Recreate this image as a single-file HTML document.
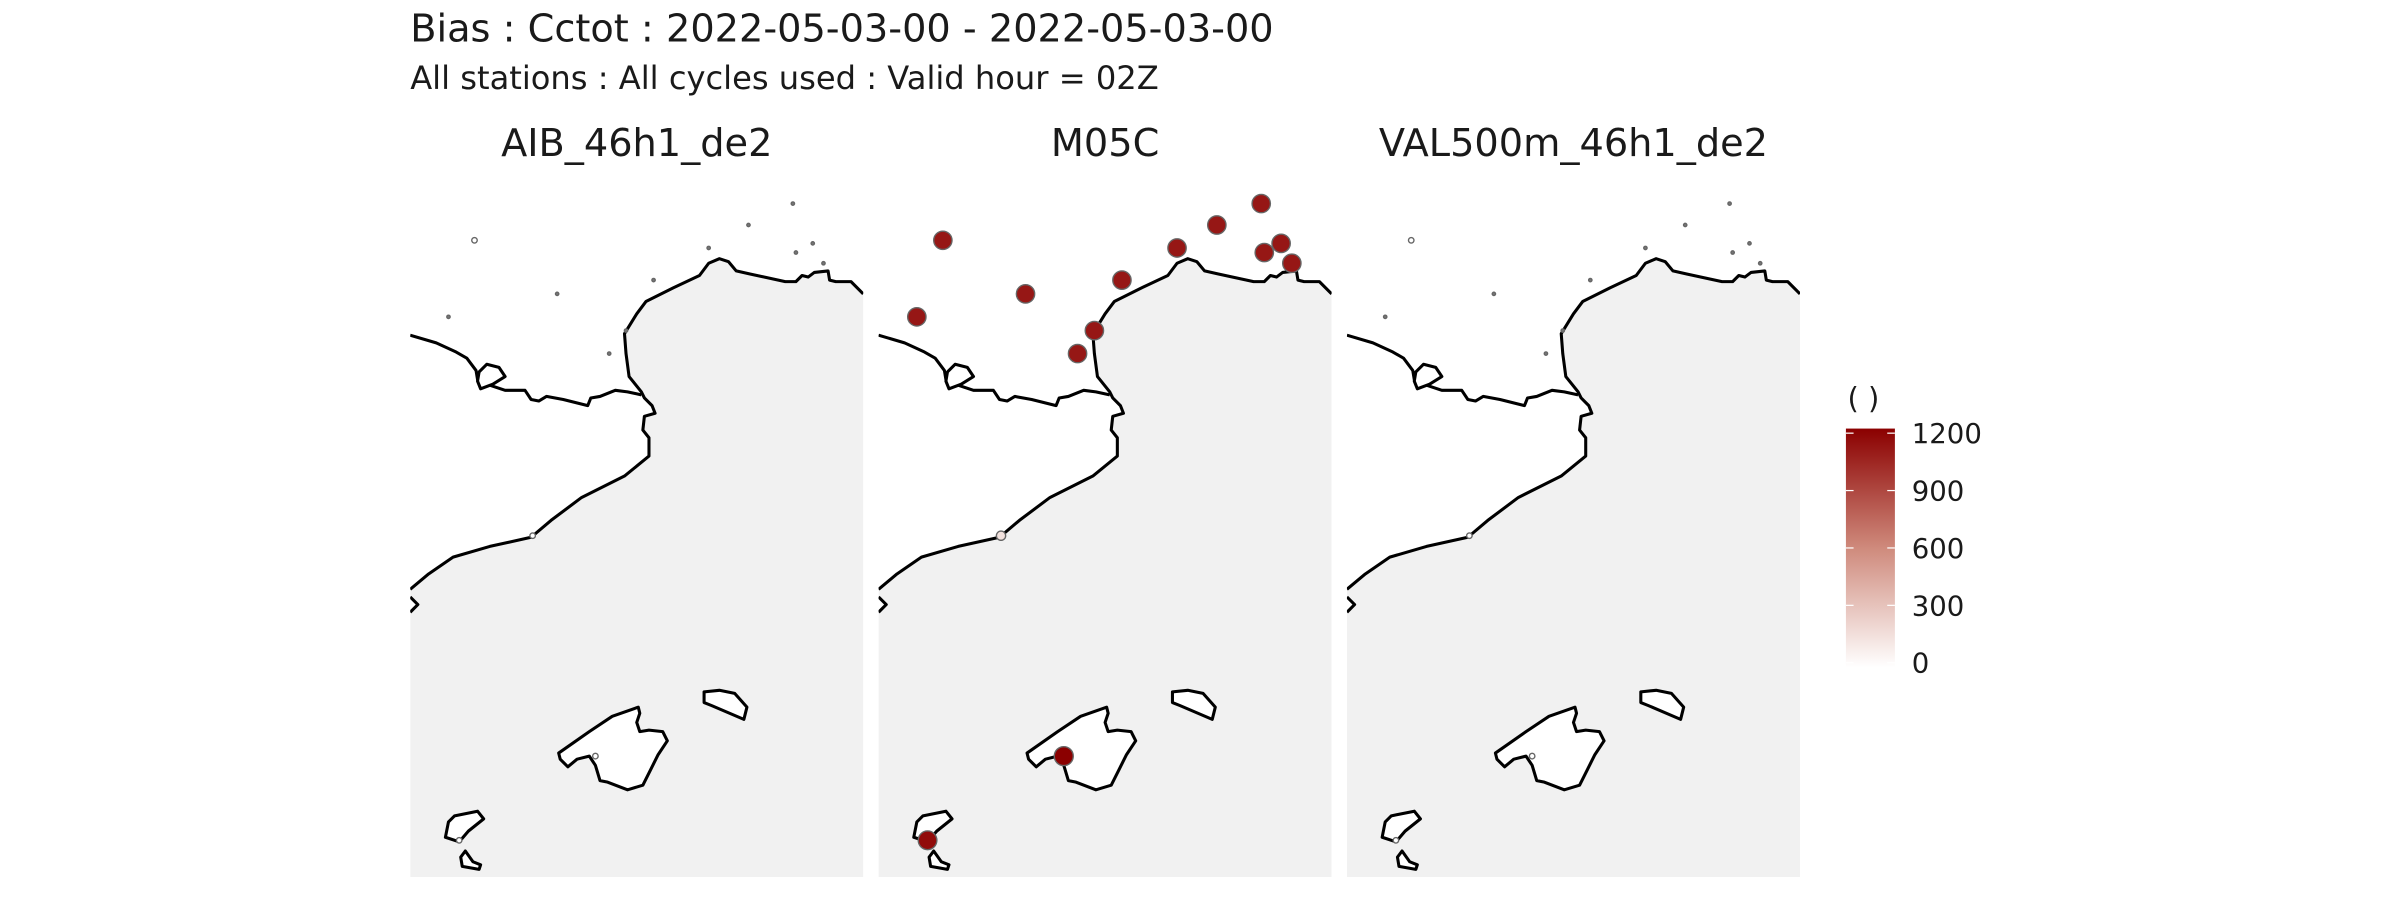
<!DOCTYPE html>
<html><head><meta charset="utf-8"><style>
html,body{margin:0;padding:0;background:#fff;}
svg{display:block;}
text{font-family:"DejaVu Sans","Liberation Sans",sans-serif;fill:#1a1a1a;}
</style></head><body>
<svg id="chart" width="2400" height="900" viewBox="0 0 1568 588" xmlns="http://www.w3.org/2000/svg">
<defs>
<linearGradient id="lg" x1="0" y1="1" x2="0" y2="0">
<stop offset="0" stop-color="#ffffff"/><stop offset="0.5" stop-color="#cf8a7c"/><stop offset="1" stop-color="#8b0000"/>
</linearGradient>
</defs>
<text x="268" y="27" font-size="25">Bias : Cctot : 2022-05-03-00 - 2022-05-03-00</text>
<text x="268" y="58" font-size="21">All stations : All cycles used : Valid hour = 02Z</text>
<g id="panels"></g>
<g>
<text x="1207" y="267" font-size="19">( )</text>
<rect x="1206" y="280" width="32" height="156" fill="url(#lg)"/>
<g id="legticks"></g>
</g>
</svg>
<script>
const NS="http://www.w3.org/2000/svg";
const panelNames=["AIB_46h1_de2","M05C","VAL500m_46h1_de2"];
const stationLon=[42,25,96,159,195,221,250,263,252,270,141,130,80,121,32];
const stationLat=[157,207,192,183,162,147,133,159,165,172,216,231,350,494,549];
const biasAIB=[0,10,10,10,10,10,10,10,10,10,10,10,0,0,0];
const biasM05C=[1100,1100,1100,1100,1100,1100,1100,1100,1100,1100,1100,1100,150,1200,1150];
const biasVAL=[0,10,10,10,10,10,10,10,10,10,10,10,0,0,0];
const legendTicks=[0,300,600,900,1200];
const vmax=1200;
const series=[biasAIB,biasM05C,biasVAL];

const coast=[[0,385],[12,375],[28,364],[52,357],[79,351],[92,340],[112,325],[140,311],[156,298],[156,286],[152,281],[153,272],[160,270],[158,265],[153,260],[151,256],[143,246],[141,231],[140,218],[148,205],[154,197],[172,188],[189,180],[195,172],[202,169],[208,171],[213,177],[222,179],[245,184],[252,184],[256,180],[260,181],[264,178],[273,177],[274,183],[278,184],[288,184],[296,192]];
const border=[[0,219],[17,224],[30,230],[37,234],[43,242],[44,248],[50,251],[62,255],[75,255],[79,261],[84,262],[89,259],[100,261],[116,265],[118,260],[124,259],[134,255],[142,256],[151,258]];
const lake=[[45,243],[50,238],[58,240],[62,246],[54,251],[46,254],[44,249]];
const mallorca=[[97,492],[117,478],[132,468],[149,462],[150,466],[148,472],[150,478],[156,477],[165,478],[168,484],[162,493],[157,503],[152,513],[142,516],[129,511],[124,510],[121,500],[117,494],[109,496],[103,501],[98,496]];
const menorca=[[192,452],[202,451],[212,453],[220,462],[218,470],[197,461],[192,459]];
const ibiza=[[25,537],[29,533],[44,530],[48,535],[38,543],[32,550],[23,547]];
const formentera=[[33,560],[36,556],[41,563],[46,565],[45,568],[34,566]];
const leftBit=[[0,390],[5,395],[0,400]];

function pts(a,dx){return a.map(p=>(p[0]+dx)+","+p[1]).join(" ");}
function col(v){const t=Math.max(0,Math.min(1,v/vmax));
 let c0,c1,u;const m=[255,255,255],mid=[207,138,124],e=[139,0,0];
 if(t<0.5){c0=m;c1=mid;u=t/0.5;}else{c0=mid;c1=e;u=(t-0.5)/0.5;}
 return "rgb("+c0.map((x,i)=>Math.round(x+(c1[i]-x)*u)).join(",")+")";}
function rad(v){return v===0?1.8:(Math.abs(v)<50?1.1:1.3+4.9*Math.sqrt(Math.abs(v)/vmax));}
function fillFor(v){return (v>0&&v<50)?"#777":col(v);}
function yLeg(v){return 433-(v/vmax)*150;}

const g=document.getElementById("panels");
const panelX=[268,574,880];
panelNames.forEach((name,i)=>{
 const x0=panelX[i];
 const pg=document.createElementNS(NS,"g");
 
 
 const cp=document.createElementNS(NS,"clipPath");cp.id="cp"+i;
 const cr=document.createElementNS(NS,"rect");cr.setAttribute("x",x0);cr.setAttribute("y",112);cr.setAttribute("width",296);cr.setAttribute("height",461);
 cp.appendChild(cr);pg.appendChild(cp);
 const t=document.createElementNS(NS,"text");
 
 
 t.setAttribute("x",x0+148);t.setAttribute("y",102);t.setAttribute("font-size","25");t.setAttribute("text-anchor","middle");t.textContent=name;pg.appendChild(t);
 const inner=document.createElementNS(NS,"g");inner.setAttribute("clip-path","url(#cp"+i+")");
 const sea=document.createElementNS(NS,"polygon");
 
 
 sea.setAttribute("points",pts(coast.concat([[296,580],[0,580],[0,400],[5,395],[0,390]]),x0));
 sea.setAttribute("fill","#f1f1f1");inner.appendChild(sea);
 const lines=[[coast,false,'coastline'],[border,false,'border-line'],[leftBit,false,'coast-fragment'],[lake,true,'lake'],[mallorca,true,'island-mallorca'],[menorca,true,'island-menorca'],[ibiza,true,'island-ibiza'],[formentera,true,'island-formentera']];
 lines.forEach(l=>{
  const e=document.createElementNS(NS,l[1]?"polygon":"polyline");
  
  
  e.setAttribute("points",pts(l[0],x0));e.setAttribute("fill",l[1]?"#fff":"none");
  e.setAttribute("stroke","#000");e.setAttribute("stroke-width","2");e.setAttribute("stroke-linejoin","round");
  inner.appendChild(e);});
 const vals=series[i];
 stationLon.forEach((lx,k)=>{
  const c=document.createElementNS(NS,"circle");
  
  
  c.setAttribute("cx",x0+lx);c.setAttribute("cy",stationLat[k]);c.setAttribute("r",rad(vals[k]));
  c.setAttribute("fill",fillFor(vals[k]));c.setAttribute("stroke","#666");c.setAttribute("stroke-width","0.9");
  inner.appendChild(c);});
 pg.appendChild(inner);g.appendChild(pg);
});
const lt=document.getElementById("legticks");
legendTicks.forEach(v=>{
 const y=yLeg(v);
 [[1206,1211],[1233,1238]].forEach(s=>{
  const l=document.createElementNS(NS,"line");
  
  
  l.setAttribute("x1",s[0]);l.setAttribute("x2",s[1]);l.setAttribute("y1",y);l.setAttribute("y2",y);
  l.setAttribute("stroke","#fff");l.setAttribute("stroke-width","0.8");lt.appendChild(l);});
 const t=document.createElementNS(NS,"text");
 
 
 t.setAttribute("x",1249);t.setAttribute("y",y+6.5);t.setAttribute("font-size","18");t.textContent=v;lt.appendChild(t);
});
</script>
</body></html>
